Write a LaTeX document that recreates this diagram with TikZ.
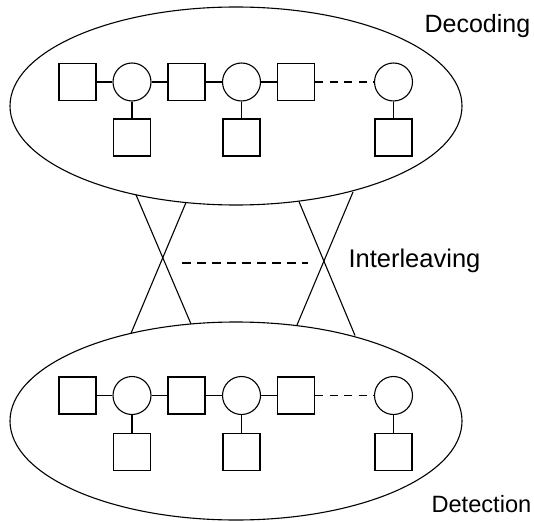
\documentclass[tikz,border=0pt]{standalone}
\usepackage{fontspec}
\setmainfont{Liberation Sans}
\usetikzlibrary{shapes.geometric}

% One chain of variable (square) and check (circle) nodes:
% #1 = name prefix, #2 = y of the main row, #3 = y of the lower squares
\newcommand\chainrow[3]{%
  \node[var] (#1v1) at (77.5,#2) {};
  \node[chk] (#1c1) at (132,#2) {};
  \node[var] (#1v2) at (186.5,#2) {};
  \node[chk] (#1c2) at (241.5,#2) {};
  \node[var] (#1v3) at (296,#2) {};
  \node[chk] (#1c3) at (393.5,#2) {};
  \node[var] (#1u1) at (132,#3) {};
  \node[var] (#1u2) at (241.5,#3) {};
  \node[var] (#1u3) at (393.5,#3) {};
  \draw (#1v1) -- (#1c1) -- (#1v2) -- (#1c2) -- (#1v3);
  \draw[gap] (#1v3) -- (#1c3);
  \draw (#1c1) -- (#1u1) (#1c2) -- (#1u2) (#1c3) -- (#1u3);
}

\begin{document}
\begin{tikzpicture}[x=1pt, y=-1pt, line width=1.1pt,
  var/.style={draw, minimum size=37pt, inner sep=0pt},
  chk/.style={draw, circle, minimum size=38pt, inner sep=0pt},
  group/.style={draw, ellipse, minimum width=452pt, minimum height=198pt, inner sep=0pt},
  lbl/.style={anchor=base west, inner sep=0pt, font=\fontsize{#1}{30}\selectfont},
  lbl/.default=24,
  gap/.style={dash pattern=on 8pt off 6.5pt},
  midgap/.style={dash pattern=on 9pt off 6pt}]
\useasboundingbox (0,0) rectangle (534,521);

% the two groups
\node[group] (dec) at (236,106) {};
\node[group] (det) at (236,421) {};

\chainrow{d}{82}{137.5}
\chainrow{t}{395.5}{452}

% labels
\node[lbl=25] (decl) at (424,33) {Decoding};
\node[lbl=25.5] (intl) at (348,267) {Interleaving};
\node[lbl=23.6] (detl) at (431,512) {Detection};

% end points of the interleaver wires on the two ellipses
\coordinate (a1) at (136,194.8);
\coordinate (a2) at (186,202.5);
\coordinate (a3) at (299,201.6);
\coordinate (a4) at (353,192.0);
\coordinate (b1) at (131,333.3);
\coordinate (b2) at (191,324.0);
\coordinate (b3) at (297,325.0);
\coordinate (b4) at (355,335.5);

\draw (a1) -- (b2);
\draw (a2) -- (b1);
\draw (a3) -- (b4);
\draw (a4) -- (b3);

\coordinate (m1) at (182,263);
\coordinate (m2) at (308,263);
\draw[midgap] (m1) -- (m2);
\end{tikzpicture}
\end{document}
